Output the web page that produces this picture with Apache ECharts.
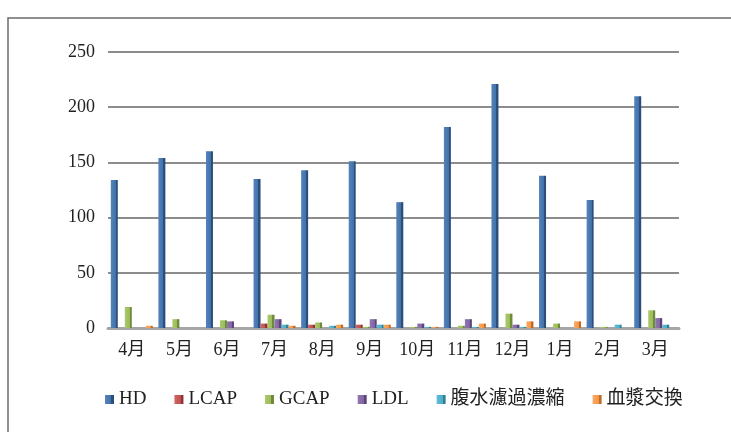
<!DOCTYPE html>
<html>
<head>
<meta charset="utf-8">
<script src="https://cdn.jsdelivr.net/npm/echarts@6/dist/echarts.min.js"></script>
<style>
  html, body { margin: 0; padding: 0; background: #fff; }
  #chart { width: 731px; height: 432px; }
</style>
</head>
<body>
<div id="chart"></div>
<script>
// 月別の治療件数
var months = ['4月', '5月', '6月', '7月', '8月', '9月', '10月', '11月', '12月', '1月', '2月', '3月']
var hd     = [134, 154, 160, 135, 143, 151, 114, 182, 221, 138, 116, 210]
var lcap   = [0, 0, 0, 4, 3, 3, 0, 0, 0, 0, 0, 0]
var gcap   = [19, 8, 7, 12, 5, 1, 1, 2, 13, 4, 1, 16]
var ldl    = [0, 0, 6, 8, 0, 8, 4, 8, 3, 0, 0, 9]
var fukusui = [0, 0, 0, 3, 2, 3, 1, 1, 1, 0, 3, 3]
var kesho  = [2, 0, 0, 2, 3, 3, 1, 4, 6, 6, 0, 0]
var yTicks = [0, 50, 100, 150, 200, 250]

var serif = '"Liberation Serif", "DejaVu Serif", "Noto Sans CJK JP", serif'

// 擬似3D用のグラデーション
function face(light, base, dark) {
    return new echarts.graphic.LinearGradient(0, 0, 1, 0, [
        { offset: 0, color: light },
        { offset: 0.7, color: base },
        { offset: 0.7, color: dark },
        { offset: 1, color: dark },
    ])
}

function makeSeries(name, data, light, base, dark) {
    return {
        name: name,
        type: 'bar',
        data: data,
        barWidth: 7,
        barGap: '0%',
        itemStyle: { color: face(light, base, dark) },
    }
}

var chart = echarts.init(document.getElementById('chart'))
var option = {
    animation: false,
    color: ['#4270a8', '#c0504d', '#9bbb59', '#8064a2', '#4bacc6', '#f79646'],
    grid: { left: 108, right: 52, top: 52, bottom: 104 },
    legend: {
        bottom: 18,
        left: 100,
        itemWidth: 9,
        itemHeight: 9,
        itemGap: 28,
        icon: 'rect',
        textStyle: { fontFamily: serif, fontSize: 19, color: '#222' },
    },
    xAxis: {
        type: 'category',
        data: months,
        axisTick: { show: false },
        axisLine: { lineStyle: { color: '#a6a6a6', width: 3 } },
        axisLabel: { fontFamily: serif, fontSize: 18, color: '#222', margin: 13 },
    },
    yAxis: {
        type: 'value',
        min: yTicks[0],
        max: yTicks[yTicks.length - 1],
        interval: 50,
        axisLine: { show: false },
        axisTick: { show: false },
        axisLabel: { fontFamily: serif, fontSize: 18, color: '#222', margin: 13 },
        splitLine: { lineStyle: { color: '#8c8c8c', width: 1.8 } },
    },
    graphic: [
        {
            type: 'polyline',
            shape: { points: [[8, 432], [8, 18], [731, 18]] },
            style: { stroke: '#6b6b6b', lineWidth: 1.5, fill: null },
        },
    ],
    series: [
        makeSeries('HD', hd, '#5583bb', '#4270a8', '#2a4f7c'),
        makeSeries('LCAP', lcap, '#cf6562', '#c0504d', '#8e3432'),
        makeSeries('GCAP', gcap, '#aac96c', '#9bbb59', '#6f8a3a'),
        makeSeries('LDL', ldl, '#9078b2', '#8064a2', '#5b4578'),
        makeSeries('腹水濾過濃縮', fukusui, '#62bdd5', '#4bacc6', '#2f7f95'),
        makeSeries('血漿交換', kesho, '#f9a865', '#f79646', '#c06b25'),
    ],
}
option && chart.setOption(option)
</script>
</body>
</html>
